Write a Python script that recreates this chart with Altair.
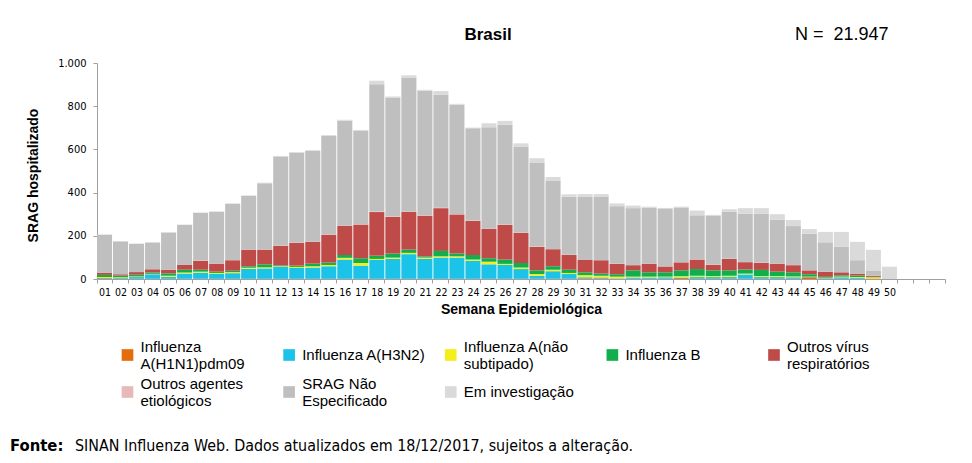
import altair as alt
import pandas as pd

weeks = [f"{i:02d}" for i in range(1, 54)]

h1n1 = [3, 2, 1, 1, 1, 1, 1, 1, 1, 1, 1, 1, 1, 1, 1, 1, 1, 1, 1, 1, 1, 1, 1, 1, 1,
        1, 1, 1, 1, 1, 3, 3, 1, 1, 1, 1, 4, 1, 1, 1, 1, 1, 1, 1, 8, 1, 1, 1, 2, 0]
h3n2 = [2, 3, 8, 21, 9, 24, 28, 23, 26, 46, 48, 55, 50, 52, 58, 89, 61, 87, 92, 114, 92, 98, 98, 83, 67,
        64, 45, 14, 35, 22, 5, 4, 2, 6, 6, 7, 3, 8, 8, 8, 20, 8, 8, 7, 1, 3, 7, 5, 0, 0]
nao_sub = [4, 3, 3, 2, 5, 5, 5, 4, 5, 5, 5, 3, 5, 6, 6, 8, 12, 5, 6, 6, 6, 6, 6, 6, 12,
           5, 7, 8, 7, 5, 10, 8, 8, 4, 4, 3, 6, 6, 5, 6, 4, 5, 5, 4, 2, 2, 3, 3, 6, 0]
flu_b = [10, 8, 8, 6, 11, 13, 9, 6, 6, 7, 14, 4, 6, 12, 11, 13, 22, 15, 19, 15, 6, 25, 13, 21, 16,
         20, 21, 17, 16, 15, 13, 10, 11, 29, 20, 20, 27, 31, 26, 25, 19, 28, 20, 19, 11, 4, 6, 7, 2, 0]
outros_virus = [9, 6, 12, 15, 17, 22, 41, 37, 49, 77, 68, 91, 105, 101, 129, 135, 156, 202, 170, 175, 188, 198, 181, 158, 136,
                161, 140, 109, 79, 68, 59, 62, 48, 24, 40, 27, 37, 44, 25, 53, 34, 33, 37, 33, 18, 23, 14, 9, 5, 0]
outros_agentes = [0, 0, 0, 0, 0, 0, 1, 0, 1, 1, 1, 1, 1, 1, 1, 1, 1, 2, 2, 2, 2, 2, 2, 2, 1,
                  1, 1, 1, 1, 1, 1, 1, 1, 1, 1, 1, 1, 1, 1, 1, 1, 1, 1, 1, 1, 0, 0, 0, 0, 0]
srag_nao_esp = [177, 152, 131, 124, 172, 185, 221, 240, 260, 248, 306, 412, 416, 421, 456, 486, 433, 590, 550, 620, 577, 523, 506, 427, 470,
                462, 399, 389, 317, 269, 289, 294, 266, 263, 258, 265, 253, 204, 228, 217, 224, 227, 202, 180, 169, 137, 118, 62, 22, 0]
em_investigacao = [1, 1, 1, 1, 2, 2, 2, 2, 2, 2, 3, 3, 3, 3, 4, 4, 4, 16, 5, 10, 4, 17, 4, 3, 18,
                   18, 14, 20, 16, 11, 13, 11, 13, 12, 5, 5, 4, 22, 3, 12, 25, 25, 26, 28, 21, 48, 69, 85, 98, 57]

series_names = [
    "Influenza A(H1N1)pdm09",
    "Influenza A(H3N2)",
    "Influenza A(não subtipado)",
    "Influenza B",
    "Outros vírus respiratórios",
    "Outros agentes etiológicos",
    "SRAG Não Especificado",
    "Em investigação",
]
series_values = [h1n1, h3n2, nao_sub, flu_b, outros_virus, outros_agentes, srag_nao_esp, em_investigacao]
series_colors = ["#E46C0A", "#1BC3E8", "#F4EF1A", "#10AF4C", "#BF4B48", "#E6B9B8", "#BFBFBF", "#DADADA"]
legend_lines = [
    ["Influenza", "A(H1N1)pdm09"],
    ["Influenza A(H3N2)"],
    ["Influenza A(não", "subtipado)"],
    ["Influenza B"],
    ["Outros vírus", "respiratórios"],
    ["Outros agentes", "etiológicos"],
    ["SRAG Não", "Especificado"],
    ["Em investigação"],
]
legend_columns = 5
y_ticks = [0, 200, 400, 600, 800, 1000]
title_text = "Brasil"
n_text = "N =\u00a0\u00a021.947"
source_bold = "Fonte:"
source_text = "SINAN Influenza Web. Dados atualizados em 18/12/2017, sujeitos a alteração."

rows = []
for si, (name, vals) in enumerate(zip(series_names, series_values)):
    for wi, v in enumerate(vals):
        rows.append({"semana": weeks[wi], "serie": name, "ordem": si, "casos": v})
df = pd.DataFrame(rows)

leg = pd.DataFrame({
    "serie": series_names,
    "col": [i % legend_columns for i in range(len(series_names))],
    "row": [i // legend_columns for i in range(len(series_names))],
    "label": ["\n".join(l) for l in legend_lines],
    "nlines": [len(l) for l in legend_lines],
})

FONT = "Liberation Sans"
NARROW = "Liberation Sans Narrow, DejaVu Sans Condensed, Liberation Sans"

color_scale = alt.Scale(domain=series_names, range=series_colors)

bars = alt.Chart(df).mark_bar().encode(
    x=alt.X(
        "semana:O",
        scale=alt.Scale(domain=weeks, paddingInner=0.06, paddingOuter=0),
        axis=alt.Axis(
            title="Semana Epidemiológica",
            labelExpr="toNumber(datum.value) > 50 ? '' : datum.label",
            labelAngle=0,
            tickBand="extent",
            tickSize=4,
            labelPadding=4,
            labelFontSize=10.5,
            labelFont=NARROW,
            titleFontSize=14,
            titleFont=FONT,
            titleFontWeight="bold",
            titlePadding=5,
        ),
    ),
    y=alt.Y(
        "casos:Q",
        stack="zero",
        scale=alt.Scale(domain=[0, 1000], nice=False),
        axis=alt.Axis(
            values=y_ticks,
            labelExpr="replace(datum.label, ',', '.')",
            grid=False,
            tickSize=4,
            labelPadding=7,
            labelFontSize=11,
            labelFont=NARROW,
            title="SRAG hospitalizado",
            titleFontSize=14,
            titleFont=FONT,
            titleFontWeight="bold",
            titleAngle=270,
            titleX=-64,
            titleY=112,
            titleAlign="center",
            titleBaseline="middle",
        ),
    ),
    color=alt.Color("serie:N", scale=color_scale, legend=None),
    order=alt.Order("ordem:Q", sort="ascending"),
)

leg_x = alt.X("col:Q", scale=alt.Scale(domain=[0, 4], range=[30.5, 677]), axis=None)
leg_y = alt.Y("row:Q", scale=alt.Scale(domain=[0, 1], range=[292, 329]), axis=None)

leg_symbols = alt.Chart(leg).mark_square(size=136, opacity=1).encode(
    x=leg_x, y=leg_y, color=alt.Color("serie:N", scale=color_scale, legend=None)
)
leg_text1 = alt.Chart(leg).transform_filter("datum.nlines == 1").mark_text(
    font=FONT, fontSize=15, align="left", baseline="middle", dx=13, lineBreak="\n", lineHeight=17
).encode(x=leg_x, y=leg_y, text="label:N")
leg_text2 = alt.Chart(leg).transform_filter("datum.nlines == 2").mark_text(
    font=FONT, fontSize=15, align="left", baseline="middle", dx=13, dy=-8.5, lineBreak="\n", lineHeight=17
).encode(x=leg_x, y=leg_y, text="label:N")

text_df = pd.DataFrame({"t": [0]})
title_mark = alt.Chart(text_df).mark_text(
    text=title_text, font=FONT, fontSize=17, fontWeight="bold", align="center", baseline="alphabetic"
).encode(x=alt.value(391), y=alt.value(-23))
n_mark = alt.Chart(text_df).mark_text(
    text=n_text, font=FONT, fontSize=18, align="left", baseline="alphabetic"
).encode(x=alt.value(698), y=alt.value(-23))
src_bold = alt.Chart(text_df).mark_text(
    text=source_bold, font=NARROW, fontSize=16.5, fontWeight="bold", align="left", baseline="alphabetic"
).encode(x=alt.value(-87), y=alt.value(388))
src_text = alt.Chart(text_df).mark_text(
    text=source_text, font=NARROW, fontSize=15.9, align="left", baseline="alphabetic"
).encode(x=alt.value(-22), y=alt.value(388))

chart = alt.layer(
    bars, leg_symbols, leg_text1, leg_text2, title_mark, n_mark, src_bold, src_text
).resolve_scale(x="independent", y="independent").properties(
    width=848,
    height=216,
    autosize=alt.AutoSizeParams(type="none"),
    padding={"left": 89, "top": 55, "right": 19, "bottom": 176},
).configure_view(stroke=None).configure_axis(
    domainColor="#A0A0A0", tickColor="#A0A0A0", labelColor="#000000", titleColor="#000000"
)

chart.save("out.html", embed_options={"renderer": "svg", "actions": False})
